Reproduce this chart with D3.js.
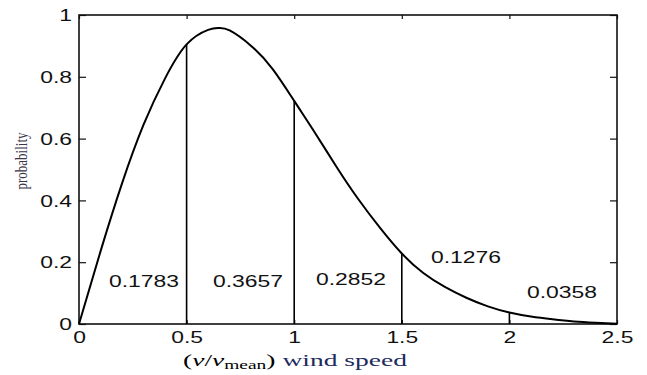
<!DOCTYPE html>
<html>
<head>
<meta charset="utf-8">
<script src="https://cdn.jsdelivr.net/npm/d3@7"></script>
<style>
  html, body { margin: 0; padding: 0; background: #fff; }
  svg { display: block; }
</style>
</head>
<body>
<svg id="windChart" width="647" height="375"></svg>
<script>
// wind speed ratio (v / v_mean) and probability density
const speedRatio = [0, 0.1, 0.2, 0.3, 0.4, 0.5, 0.6, 0.65, 0.7, 0.8, 0.9, 1.0,
  1.1, 1.2, 1.3, 1.4, 1.5, 1.6, 1.7, 1.8, 1.9, 2.0, 2.1, 2.2, 2.3, 2.4, 2.5]
const density = [0, 0.235, 0.455, 0.645, 0.795, 0.905, 0.952, 0.958, 0.95, 0.9, 0.825, 0.722,
  0.615, 0.505, 0.402, 0.31, 0.228, 0.165, 0.12, 0.085, 0.057, 0.037, 0.024, 0.015, 0.008, 0.004, 0.001]

// bin edges drawn as vertical lines, and probability of each bin
const binEdges = [0.5, 1, 1.5, 2]
const binProb = ['0.1783', '0.3657', '0.2852', '0.1276', '0.0358']
// where each probability label sits, in data units (centre x, baseline y)
const labelX = [0.302, 0.785, 1.264, 1.798, 2.244]
const labelY = [0.121, 0.121, 0.127, 0.197, 0.084]

const xTicks = [0, 0.5, 1, 1.5, 2, 2.5]
const yTicks = [0, 0.2, 0.4, 0.6, 0.8, 1]

const svg = d3.select('#windChart')
const width = 647
const height = 375
const margin = { top: 15, right: 30, bottom: 51, left: 79 }
const innerWidth = width - margin.left - margin.right
const innerHeight = height - margin.top - margin.bottom

const sans = '"Liberation Sans", Arial, sans-serif'
const serif = '"Liberation Serif", "Times New Roman", serif'
const sx = 1.43 // the picture is stretched sideways

// widen text glyphs without a scale transform
function stretch(sel, factor) {
  sel.each(function () {
    const w = this.getComputedTextLength()
    d3.select(this)
      .attr('textLength', w * factor)
      .attr('lengthAdjust', 'spacingAndGlyphs')
  })
}

const g = svg.append('g')
  .attr('transform', `translate(${margin.left},${margin.top})`)

// ------------------
// Scales
// ------------------
const x = d3.scaleLinear().domain([0, 2.5]).range([0, innerWidth])
const y = d3.scaleLinear().domain([0, 1]).range([innerHeight, 0])

const points = speedRatio.map((s, i) => ({ s, p: density[i] }))
const densityAt = s => points.find(d => Math.abs(d.s - s) < 1e-9).p

// ------------------
// Axes (ticks point inward, box all round)
// ------------------
function styleAxis(sel) {
  sel.select('.domain').remove()
  sel.selectAll('line').attr('stroke', '#111').attr('stroke-width', 1.2)
}

g.append('g')
  .attr('transform', `translate(0,${innerHeight})`)
  .call(d3.axisBottom(x).tickValues(xTicks).tickSize(-4).tickSizeOuter(0).tickPadding(0).tickFormat(d => String(d)))
  .call(styleAxis)
  .selectAll('text')
  .attr('y', 19)
  .attr('dy', null)
  .attr('font-family', sans)
  .attr('font-size', 16)
  .attr('fill', '#111')
  .call(stretch, sx)

g.append('g')
  .call(d3.axisLeft(y).tickValues(yTicks).tickSize(-7).tickSizeOuter(0).tickFormat(d => String(d)))
  .call(styleAxis)
  .selectAll('text')
  .attr('x', -7)
  .attr('dy', '0.35em')
  .attr('font-family', sans)
  .attr('font-size', 16)
  .attr('fill', '#111')
  .call(stretch, sx)

// mirrored ticks, no labels
g.append('g')
  .call(d3.axisTop(x).tickValues(xTicks).tickSize(-4).tickSizeOuter(0))
  .call(styleAxis)
  .call(a => a.selectAll('text').remove())

g.append('g')
  .attr('transform', `translate(${innerWidth},0)`)
  .call(d3.axisRight(y).tickValues(yTicks).tickSize(-7).tickSizeOuter(0))
  .call(styleAxis)
  .call(a => a.selectAll('text').remove())

g.append('rect')
  .attr('width', innerWidth)
  .attr('height', innerHeight)
  .attr('fill', 'none')
  .attr('stroke', '#111')
  .attr('stroke-width', 1.6)

// ------------------
// Bin edges
// ------------------
g.selectAll('.edge')
  .data(binEdges)
  .enter()
  .append('line')
  .attr('class', 'edge')
  .attr('x1', d => x(d))
  .attr('x2', d => x(d))
  .attr('y1', y(0))
  .attr('y2', d => y(densityAt(d)))
  .attr('stroke', '#000')
  .attr('stroke-width', 1.6)

// ------------------
// Density curve
// ------------------
const line = d3.line()
  .x(d => x(d.s))
  .y(d => y(d.p))
  .curve(d3.curveNatural)

g.append('path')
  .datum(points)
  .attr('d', line)
  .attr('fill', 'none')
  .attr('stroke', '#000')
  .attr('stroke-width', 2)

// ------------------
// Bin probabilities
// ------------------
g.selectAll('.prob')
  .data(binProb)
  .enter()
  .append('text')
  .attr('class', 'prob')
  .attr('x', (d, i) => x(labelX[i]))
  .attr('y', (d, i) => y(labelY[i]))
  .attr('text-anchor', 'middle')
  .attr('font-family', sans)
  .attr('font-size', 16)
  .attr('fill', '#111')
  .text(d => d)
  .call(stretch, sx)

// ------------------
// Axis titles
// ------------------
const xTitle = svg.append('text')
  .attr('x', 295)
  .attr('y', 366)
  .attr('text-anchor', 'middle')
  .attr('font-family', serif)
  .attr('font-size', 17)
  .attr('fill', '#000')

xTitle.append('tspan').text('(')
xTitle.append('tspan').attr('font-style', 'italic').text('ν')
xTitle.append('tspan').text('/')
xTitle.append('tspan').attr('font-style', 'italic').text('ν')
xTitle.append('tspan').attr('font-size', 12).attr('dy', 3).text('mean')
xTitle.append('tspan').attr('dy', -3).text(')')
xTitle.append('tspan').attr('fill', '#1c2a5e').text(' wind speed')

xTitle
  .attr('textLength', 224)
  .attr('lengthAdjust', 'spacingAndGlyphs')

svg.append('text')
  .attr('transform', 'translate(27,161) scale(1.35,1) rotate(-90)')
  .attr('text-anchor', 'middle')
  .attr('font-family', serif)
  .attr('font-size', 13)
  .attr('fill', '#3b3348')
  .text('probability')
</script>
</body>
</html>
